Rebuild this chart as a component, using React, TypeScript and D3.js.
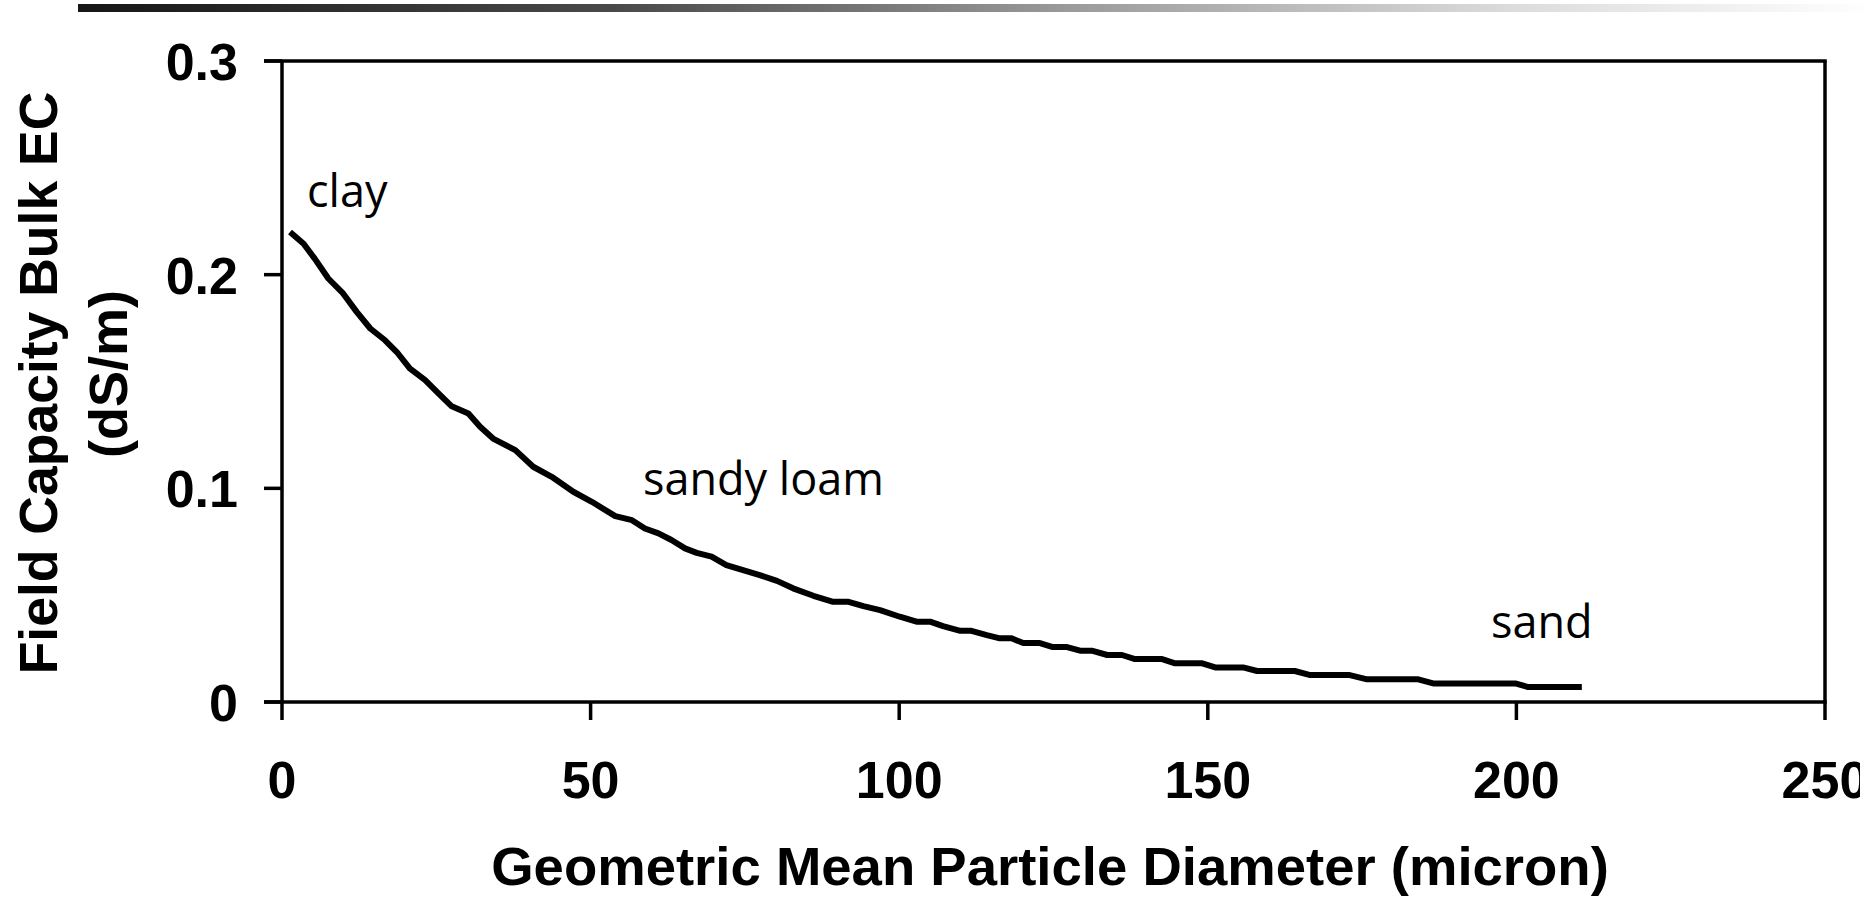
import React from "react";
import * as d3 from "d3";

const diameter = [1.3, 3.5, 5.3, 7.5, 9.9, 12.1, 14.3, 16.7, 18.6, 20.7, 23.2, 25.1, 27.5, 30.2, 32.1, 34.2, 37.8, 40.7, 43.7, 47.2, 50.2, 54.0, 56.7, 58.8, 61.0, 63.1, 65.3, 67.2, 69.6, 72.0, 74.7, 77.4, 80.2, 82.8, 86.1, 89.3, 91.8, 94.2, 96.9, 100.1, 102.8, 105.0, 107.1, 109.9, 111.7, 114.2, 116.3, 118.2, 120.1, 122.8, 124.9, 127.2, 129.3, 131.2, 133.7, 136.1, 138.2, 142.6, 144.7, 149.1, 151.2, 155.7, 158.0, 164.1, 166.6, 173.0, 175.8, 184.1, 186.5, 199.8, 201.9, 210.6];
const bulkEC = [0.22, 0.2145, 0.2075, 0.1982, 0.1912, 0.1826, 0.1748, 0.1693, 0.1638, 0.1561, 0.1506, 0.1451, 0.1384, 0.135, 0.1288, 0.1233, 0.1179, 0.1101, 0.1054, 0.0984, 0.0937, 0.087, 0.0851, 0.0812, 0.0789, 0.0758, 0.0719, 0.0698, 0.068, 0.0641, 0.0617, 0.0594, 0.0567, 0.0532, 0.0497, 0.0469, 0.0469, 0.0449, 0.043, 0.0399, 0.0376, 0.0376, 0.0355, 0.0333, 0.0333, 0.0313, 0.0298, 0.0298, 0.0276, 0.0276, 0.0257, 0.0257, 0.024, 0.024, 0.022, 0.022, 0.0201, 0.0201, 0.0181, 0.0181, 0.0162, 0.0162, 0.0145, 0.0145, 0.0126, 0.0126, 0.0106, 0.0106, 0.0087, 0.0087, 0.007, 0.007];

const xTicks = [0, 50, 100, 150, 200, 250];
const yTicks = [0, 0.1, 0.2, 0.3];
const yTickLabels = ["0", "0.1", "0.2", "0.3"];

const annotations = [
  { text: "clay", x: 307, y: 207 },
  { text: "sandy loam", x: 643, y: 495 },
  { text: "sand", x: 1491, y: 638 },
];

const xTitle = "Geometric Mean Particle Diameter (micron)";
const yTitle1 = "Field Capacity Bulk EC";
const yTitle2 = "(dS/m)";

export default function App() {
  const W = 1874, H = 900;
  const x = d3.scaleLinear().domain([0, 250]).range([282, 1825]);
  const y = d3.scaleLinear().domain([0, 0.3]).range([702, 61]);
  const data = diameter.map((d, i) => [d, bulkEC[i]] as [number, number]);
  const line = d3.line<[number, number]>().x((d) => x(d[0])).y((d) => y(d[1]));
  const axisFont = "Arial, 'Liberation Sans', sans-serif";
  const annFont = "'Comic Sans MS', 'Open Sans', sans-serif";
  const sw = 3.5;
  const tick = 18;
  return (
    <svg width={W} height={H} style={{ position: "absolute", left: 0, top: 0, background: "#fff" }}>
      <defs>
        <linearGradient id="topbar" x1="0" x2="1" y1="0" y2="0">
          <stop offset="0" stopColor="#161616" />
          <stop offset="0.3" stopColor="#4a4a4a" />
          <stop offset="0.55" stopColor="#9a9a9a" />
          <stop offset="0.8" stopColor="#dcdcdc" />
          <stop offset="1" stopColor="#ffffff" />
        </linearGradient>
        <clipPath id="pageclip">
          <rect x={0} y={0} width={1860} height={H} />
        </clipPath>
      </defs>
      <rect x={78} y={4} width={1796} height={8} fill="url(#topbar)" />

      <g clipPath="url(#pageclip)">
        {/* frame */}
        <line x1={x(0)} x2={x(0)} y1={y(0.3)} y2={y(0)} stroke="#000" strokeWidth={sw} />
        <line x1={x(250)} x2={x(250)} y1={y(0.3)} y2={y(0)} stroke="#000" strokeWidth={sw} />
        <line x1={x(0) - tick} x2={x(250) + sw / 2} y1={y(0.3)} y2={y(0.3)} stroke="#000" strokeWidth={sw} />
        <line x1={x(0) - tick} x2={x(250) + sw / 2} y1={y(0)} y2={y(0)} stroke="#000" strokeWidth={sw} />

        {yTicks.map((t, i) => (
          <g key={"y" + t}>
            <line x1={x(0) - tick} x2={x(0)} y1={y(t)} y2={y(t)} stroke="#000" strokeWidth={sw} />
            <text x={238} y={y(t) + 19} textAnchor="end" fontFamily={axisFont} fontWeight="bold" fontSize={52} fill="#000">
              {yTickLabels[i]}
            </text>
          </g>
        ))}
        {xTicks.map((t) => (
          <g key={"x" + t}>
            <line x1={x(t)} x2={x(t)} y1={y(0)} y2={y(0) + tick} stroke="#000" strokeWidth={sw} />
            <text x={x(t)} y={798} textAnchor="middle" fontFamily={axisFont} fontWeight="bold" fontSize={52} fill="#000">
              {t}
            </text>
          </g>
        ))}

        <path d={line(data) || ""} fill="none" stroke="#000" strokeWidth={6} strokeLinejoin="round" strokeLinecap="butt" />

        {annotations.map((a) => (
          <text key={a.text} x={a.x} y={a.y} fontFamily={annFont} fontSize={45} fill="#000">
            {a.text}
          </text>
        ))}

        <text x={1050} y={885} textAnchor="middle" fontFamily={axisFont} fontWeight="bold" fontSize={54.5} fill="#000">
          {xTitle}
        </text>
        <text transform="translate(57,383) rotate(-90)" textAnchor="middle" fontFamily={axisFont} fontWeight="bold" fontSize={53.5} fill="#000">
          {yTitle1}
        </text>
        <text transform="translate(127,374) rotate(-90)" textAnchor="middle" fontFamily={axisFont} fontWeight="bold" fontSize={54} fill="#000">
          {yTitle2}
        </text>
      </g>
    </svg>
  );
}
